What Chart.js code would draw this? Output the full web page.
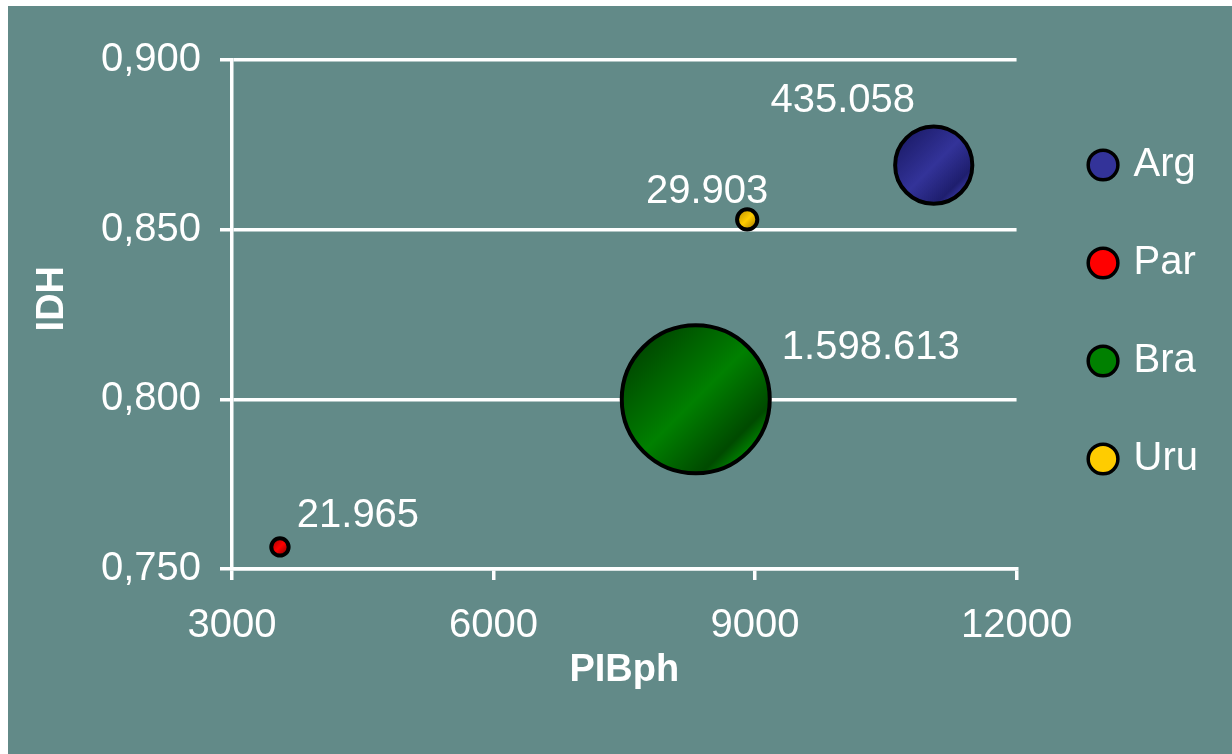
<!DOCTYPE html>
<html>
<head>
<meta charset="utf-8">
<script src="https://cdn.jsdelivr.net/npm/chart.js"></script>
<style>
  body { margin: 0; background: #ffffff; }
  #fundo { position: absolute; left: 8px; top: 6px; width: 1224px; height: 748px; background: #628a88; }
</style>
</head>
<body>
<div id="fundo"><canvas id="canvasbolhas" width="1224" height="748"></canvas></div>
<script>
// dados
var paises = ['Arg', 'Par', 'Bra', 'Uru'];
var pibph = [11050, 3550, 8320, 8910];
var idh = [0.869, 0.7565, 0.800, 0.853];
var populacao = [435058, 21965, 1598613, 29903];
var xTicks = [3000, 6000, 9000, 12000];
var yTicks = [0.750, 0.800, 0.850, 0.900];

// estilo
var cores = ['#333399', '#ff0000', '#008000', '#ffcc00'];
var coresEscuras = ['#1e1e6e', '#b00000', '#004a00', '#c89a00'];
var raioMax = 74;
var deslocX = [-91, 78, 175, -40];
var deslocY = [-64, -31, -51, -28];

Chart.defaults.font.family = "'Liberation Sans', Arial, sans-serif";
Chart.defaults.font.size = 40;
Chart.defaults.color = '#ffffff';

function formata(v) {
  return String(v).replace(/\B(?=(\d{3})+(?!\d))/g, '.');
}

var maiorPop = Math.max.apply(null, populacao);

function preenchimento(c) {
  var i = c.datasetIndex;
  var chart = c.chart;
  if (!chart.chartArea || !c.parsed || !c.raw) return cores[i];
  var px = chart.scales.x.getPixelForValue(c.parsed.x);
  var py = chart.scales.y.getPixelForValue(c.parsed.y);
  var r = c.raw.r * 0.707;
  var g = chart.ctx.createLinearGradient(px - r, py - r, px + r, py + r);
  g.addColorStop(0, coresEscuras[i]);
  g.addColorStop(0.5, cores[i]);
  g.addColorStop(0.88, coresEscuras[i]);
  g.addColorStop(1, cores[i]);
  return g;
}

var datasets = paises.map(function (p, i) {
  return {
    label: p,
    yAxisID: 'y',
    data: [{ x: pibph[i], y: idh[i], r: raioMax * Math.sqrt(populacao[i] / maiorPop) }],
    backgroundColor: preenchimento,
    borderColor: '#000000',
    borderWidth: 4
  };
});

// rotulos das bolhas
var rotulos = {
  id: 'rotulos',
  afterDatasetsDraw: function (chart) {
    var ctx = chart.ctx;
    ctx.save();
    ctx.font = "40px 'Liberation Sans', Arial, sans-serif";
    ctx.fillStyle = '#ffffff';
    ctx.textAlign = 'center';
    ctx.textBaseline = 'middle';
    chart.data.datasets.forEach(function (ds, i) {
      var el = chart.getDatasetMeta(i).data[0];
      ctx.fillText(formata(populacao[i]), el.x + deslocX[i], el.y + deslocY[i]);
    });
    ctx.restore();
  }
};

var ctx = document.getElementById('canvasbolhas').getContext('2d');
var grafico = new Chart(ctx, {
  type: 'bubble',
  data: { datasets: datasets },
  plugins: [rotulos],
  options: {
    responsive: false,
    animation: false,
    layout: { autoPadding: false, padding: { top: 54, right: 24, bottom: 0, left: 0 } },
    plugins: {
      tooltip: { enabled: false },
      legend: {
        display: true,
        position: 'right',
        fullSize: false,
        align: 'start',
        // titulo vazio so para empurrar os itens para baixo
        title: { display: true, text: '', font: { size: 15 }, padding: { top: 0, bottom: 9 } },
        labels: {
          usePointStyle: true,
          pointStyle: 'circle',
          boxWidth: 21,
          boxHeight: 21,
          padding: 58,
          color: '#ffffff',
          font: { size: 40 },
          generateLabels: function (chart) {
            var itens = Chart.defaults.plugins.legend.labels.generateLabels(chart);
            itens.forEach(function (it, i) {
              it.fillStyle = cores[i];
              it.strokeStyle = '#000000';
              it.lineWidth = 3.5;
            });
            return itens;
          }
        }
      }
    },
    scales: {
      x: {
        type: 'linear',
        min: 3000,
        max: 12000,
        afterFit: function (s) { s.height = 185; },
        afterBuildTicks: function (s) { s.ticks = xTicks.map(function (v) { return { value: v }; }); },
        ticks: { padding: 22, color: '#ffffff', font: { size: 40 }, callback: function (v) { return String(v); } },
        grid: { display: true, drawOnChartArea: false, drawTicks: true, tickLength: 11, color: '#ffffff', lineWidth: 3.5 },
        border: { display: true, color: '#ffffff', width: 3.5 },
        title: { display: true, text: 'PIBph', color: '#ffffff', font: { size: 38, weight: 'bold' }, padding: { top: 0, bottom: 61 } }
      },
      y: {
        type: 'linear',
        position: 'left',
        min: 0.75,
        max: 0.9,
        afterFit: function (s) { s.width = 224; },
        afterBuildTicks: function (s) { s.ticks = yTicks.map(function (v) { return { value: v }; }); },
        ticks: { padding: 19, color: '#ffffff', font: { size: 40 }, callback: function (v) { return v.toFixed(3).replace('.', ','); } },
        grid: { display: true, drawTicks: true, tickLength: 12, color: '#ffffff', lineWidth: 3.5 },
        border: { display: true, color: '#ffffff', width: 3.5 },
        title: { display: true, text: '   IDH', color: '#ffffff', font: { size: 38, weight: 'bold' }, padding: { top: 22, bottom: 0 } }
      },
      y2: {
        type: 'linear',
        position: 'right',
        display: true,
        grid: { display: false },
        border: { display: false },
        ticks: { display: false },
        afterFit: function (s) { s.width = 18; }
      }
    }
  }
});
</script>
</body>
</html>
